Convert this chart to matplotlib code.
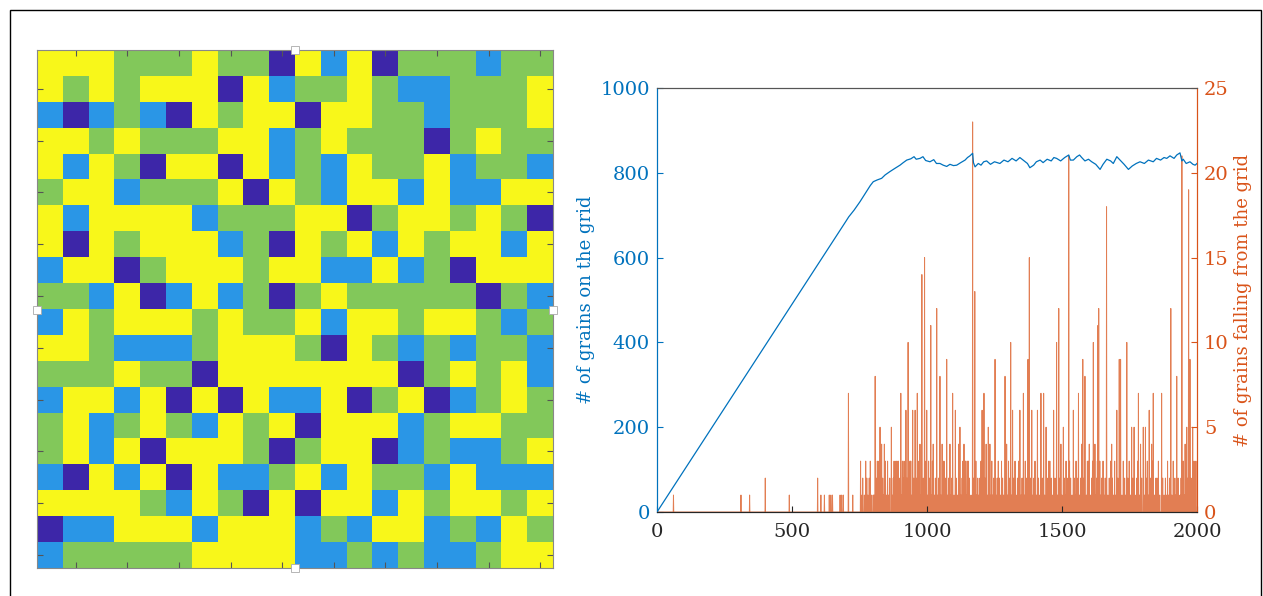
import numpy as np
import matplotlib
matplotlib.use("Agg")
import matplotlib.pyplot as plt
from matplotlib.colors import ListedColormap
from matplotlib.patches import Rectangle

plt.rcParams['font.family'] = ['DejaVu Serif']

# sandpile grid, D = 0 grains, B = 1, G = 2, Y = 3
grid_rows = [
    "YYYGGGYGGDYBYDGGGBGG",
    "YGYGYYYDYBGGYGBBGGGY",
    "BDBGBDYGYYDYYGGBGGGY",
    "YYGYGGGYYBGYGGGDGYGG",
    "YBYGDYYDYBGBYGGYBGGB",
    "GYYBGGGYDYGBYYBYBBYY",
    "YBYYYYBGGGYYDGYYGYGD",
    "YDYGYYYBGDYGYBYGYYBY",
    "BYYDGYYYGYYBBYBGDYYY",
    "GGBYDBYBGDGYGGGGGDGB",
    "BYGYYYGYGGYBYYGYYGBG",
    "YYGBBBGYYYGDYGBGBGGB",
    "GGGYGGDYYYYYYYDGYGYB",
    "BYYBYDYDYBBYDGYDBGYG",
    "GYBGYGBYGYDYYYBGYYGG",
    "GYBYDYYYGDGYYDBGBBGY",
    "BDYBYDYBBGYBYGGBYBBB",
    "YYYYGBYGDYDYYBYGYYGY",
    "DBBYYYBYYYBGBYYBGBYG",
    "BGGGGGYYYYBBGBGBBGYY",
]
cell_colors = ['#3D26A8', '#2A96E6', '#82C85A', '#F8F71A']

# grains on the grid (step, count)
grain_steps = [0, 100, 200, 300, 400, 500, 600, 700, 710, 730, 752, 770, 790, 801, 815,
               832, 845, 863, 880, 900, 912, 925, 940, 952, 960, 974, 985, 995, 1011, 1025,
               1035, 1048, 1060, 1073, 1085, 1098, 1110, 1125, 1141, 1150, 1159, 1169, 1172,
               1178, 1190, 1200, 1210, 1221, 1235, 1250, 1270, 1285, 1300, 1315, 1330, 1344,
               1360, 1372, 1381, 1395, 1405, 1419, 1430, 1445, 1460, 1470, 1480, 1495, 1510,
               1525, 1531, 1542, 1555, 1565, 1573, 1585, 1598, 1610, 1625, 1641, 1652, 1666,
               1680, 1690, 1703, 1715, 1730, 1746, 1760, 1775, 1789, 1805, 1820, 1838, 1850,
               1865, 1878, 1888, 1900, 1915, 1925, 1937, 1944, 1949, 1960, 1974, 1985, 1993, 2000]
grain_counts = [0, 98, 196, 294, 392, 490, 588, 686, 696, 712, 732, 750, 770, 779, 783,
                787, 795, 803, 810, 818, 824, 830, 833, 838, 832, 834, 838, 829, 826, 831,
                822, 822, 818, 815, 820, 817, 818, 824, 830, 836, 840, 846, 824,
                814, 822, 818, 826, 828, 820, 826, 822, 830, 826, 834, 828, 836,
                828, 822, 812, 818, 826, 830, 824, 832, 828, 836, 834, 828, 836,
                842, 830, 830, 838, 842, 836, 828, 832, 826, 820, 808, 820, 832,
                828, 822, 838, 830, 820, 808, 816, 822, 826, 822, 830, 826, 834,
                830, 836, 834, 840, 834, 842, 847, 828, 832, 822, 826, 820, 818, 822]

# grains falling off the grid, by step
fall_1 = [61, 311, 343, 490, 607, 620, 638, 644, 650, 678, 684, 690, 725, 756, 768, 781, 795,
          801, 804, 819, 829, 839, 851, 858, 871, 881, 891, 906, 918, 934, 944, 953, 968, 978,
          994, 1003, 1018, 1027, 1040, 1052, 1066, 1077, 1089, 1100, 1112, 1126, 1147, 1163,
          1184, 1192, 1207, 1223, 1237, 1243, 1256, 1272, 1284, 1298, 1313, 1330, 1348, 1361,
          1371, 1392, 1405, 1418, 1436, 1448, 1464, 1484, 1500, 1512, 1522, 1537, 1548, 1565,
          1590, 1605, 1626, 1643, 1656, 1670, 1690, 1699, 1722, 1736, 1754, 1771, 1787, 1805,
          1820, 1843, 1862, 1878, 1888, 1895, 1907, 1921, 1937, 1953, 1981, 1992]
fall_2 = [401, 595, 762, 777, 786, 812, 836, 862, 875, 897, 912, 926, 951, 960, 986, 1009,
          1031, 1043, 1069, 1080, 1092, 1108, 1130, 1157, 1173, 1188, 1196, 1215, 1230, 1247,
          1260, 1268, 1280, 1292, 1306, 1321, 1335, 1352, 1368, 1383, 1396, 1413, 1427, 1445,
          1460, 1474, 1492, 1509, 1519, 1532, 1546, 1556, 1569, 1581, 1610, 1628, 1647, 1660,
          1675, 1687, 1707, 1732, 1744, 1762, 1777, 1795, 1812, 1827, 1848, 1852, 1873, 1883,
          1899, 1918, 1930, 1941, 1966, 1978]
fall_3 = [754, 773, 790, 816, 822, 846, 854, 878, 885, 889, 894, 909, 915, 937, 940, 970,
          996, 1006, 1020, 1059, 1063, 1120, 1133, 1141, 1144, 1150, 1153, 1181, 1200, 1240,
          1264, 1276, 1302, 1326, 1339, 1364, 1400, 1451, 1455, 1515, 1528, 1552, 1594, 1598,
          1613, 1631, 1640, 1652, 1680, 1695, 1727, 1749, 1780, 1816, 1835, 1857, 1891, 1912,
          1949, 1989, 1996]
big_steps = [709, 808, 826, 832, 842, 868, 903, 922, 930, 947, 956, 964, 974, 981, 991, 999,
             1014, 1023, 1036, 1048, 1056, 1073, 1085, 1095, 1105, 1117, 1122, 1137, 1169, 1177,
             1204, 1211, 1219, 1227, 1233, 1252, 1289, 1295, 1310, 1317, 1344, 1357, 1374, 1379,
             1388, 1409, 1422, 1432, 1441, 1469, 1480, 1488, 1496, 1505, 1525, 1542, 1561, 1573,
             1577, 1585, 1601, 1616, 1622, 1633, 1636, 1665, 1684, 1703, 1712, 1717, 1740, 1758,
             1767, 1783, 1791, 1801, 1809, 1823, 1832, 1838, 1869, 1903, 1925, 1944, 1956, 1962,
             1969, 1974, 1984]
big_counts = [7, 8, 5, 4, 4, 5, 7, 6, 10, 6, 6, 7, 4, 14, 15, 6,
              11, 4, 12, 8, 4, 9, 4, 7, 6, 4, 5, 4, 23, 13,
              6, 7, 4, 5, 4, 9, 8, 4, 10, 6, 6, 7, 9, 15,
              6, 6, 7, 7, 5, 6, 10, 12, 4, 5, 21, 6, 7, 4,
              9, 8, 4, 10, 4, 11, 12, 18, 4, 6, 9, 9, 10, 5,
              5, 7, 4, 5, 5, 6, 4, 7, 7, 12, 8, 21, 4, 5,
              19, 9, 5]

n_steps = 2000
xticks = [0, 500, 1000, 1500, 2000]
left_ticks = [0, 200, 400, 600, 800, 1000]
right_ticks = [0, 5, 10, 15, 20, 25]

blue = '#0072BD'
orange = '#D95319'

fig = plt.figure(figsize=(12.63, 5.96), dpi=100)
W, H = 1263, 596

# ---- left: the sandpile grid ----
code = {'D': 0, 'B': 1, 'G': 2, 'Y': 3}
grid = np.array([[code[c] for c in row] for row in grid_rows])
axg = fig.add_axes([37 / W, 1 - 568 / H, 516 / W, 518 / H])
axg.imshow(grid, cmap=ListedColormap(cell_colors), vmin=-0.5, vmax=3.5,
           aspect='auto', interpolation='nearest')
axg.set_xticks(np.arange(1, 20, 2))
axg.set_yticks(np.arange(1, 20, 2))
axg.set_xticklabels([])
axg.set_yticklabels([])
axg.tick_params(direction='in', length=4, color='#555555', top=True, right=True)
for s in axg.spines.values():
    s.set_color('#888888')
    s.set_linewidth(0.8)

# little white handles on the grid edges
for (hx, hy) in [(295, 50), (295, 568), (37, 310), (553, 310)]:
    fig.patches.append(Rectangle(((hx - 4) / W, 1 - (hy + 4) / H), 8 / W, 8 / H,
                                 transform=fig.transFigure, facecolor='white',
                                 edgecolor='#aaaaaa', lw=0.6, zorder=10))

# ---- right: grains on grid and falling ----
ax = fig.add_axes([657 / W, 1 - 512 / H, 540 / W, 424 / H])
ax2 = ax.twinx()

falls = np.zeros(n_steps + 1)
falls[fall_1] = 1
falls[fall_2] = 2
falls[fall_3] = 3
falls[big_steps] = big_counts
ax2.plot(np.arange(n_steps + 1), falls, color=orange, lw=0.7, alpha=0.75)

ax.plot(grain_steps, grain_counts, color=blue, lw=0.9, zorder=5)
ax.set_zorder(ax2.get_zorder() + 1)
ax.patch.set_visible(False)

ax.set_xlim(0, 2000)
ax.set_ylim(0, 1000)
ax2.set_ylim(0, 25)
ax.set_xticks(xticks)
ax.set_yticks(left_ticks)
ax2.set_yticks(right_ticks)

ax.tick_params(axis='x', direction='in', length=4, labelsize=14, colors='#262626', pad=8)
ax.tick_params(axis='y', direction='in', length=4, labelsize=14, colors=blue, pad=5)
ax2.tick_params(axis='y', direction='in', length=4, labelsize=14, colors=orange, pad=5)

ax.set_ylabel('# of grains on the grid', color=blue, fontsize=13, labelpad=4)
ax2.set_ylabel('# of grains falling from the grid', color=orange, fontsize=13, labelpad=4)

for a in (ax, ax2):
    a.spines['top'].set_color('#555555')
    a.spines['bottom'].set_color('#262626')
    a.spines['left'].set_color(blue)
    a.spines['right'].set_color(orange)
    for s in a.spines.values():
        s.set_linewidth(0.8)

# outer frame of the picture
fig.patches.append(Rectangle((10 / W, -0.01), (1261 - 10) / W, 1 - 10 / H + 0.01,
                             transform=fig.transFigure, fill=False,
                             edgecolor='black', lw=1.0))

fig.savefig('out.png', dpi=100)
